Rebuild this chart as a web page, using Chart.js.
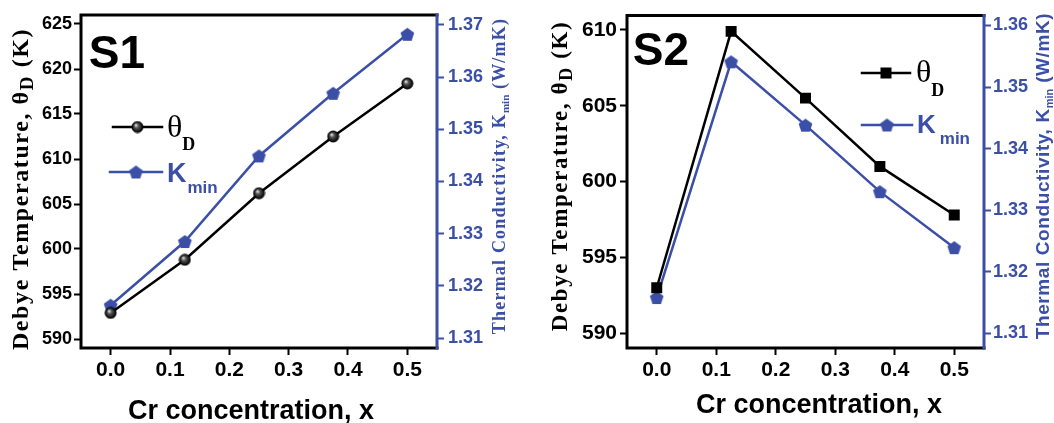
<!DOCTYPE html>
<html>
<head>
<meta charset="utf-8">
<script src="https://cdn.jsdelivr.net/npm/chart.js@4/dist/chart.umd.min.js"></script>
<style>
  html, body { margin: 0; padding: 0; background: #fff; }
  .panel { position: absolute; top: 0; width: 527px; height: 423px; }
  #p1 { left: 0; }
  #p2 { left: 527px; }
</style>
</head>
<body>
<div class="panel" id="p1"><canvas id="chartS1"></canvas></div>
<div class="panel" id="p2"><canvas id="chartS2"></canvas></div>
<script>
// Cr concentration (x) for both samples
const xValues = [0, 0.125, 0.25, 0.375, 0.5];

// S1
const s1Theta = [592.9, 598.8, 606.2, 612.5, 618.4];
const s1Kmin = [1.3163, 1.3285, 1.3449, 1.3569, 1.3682];

// S2
const s2Theta = [593.0, 609.9, 605.5, 601.0, 597.8];
const s2Kmin = [1.3158, 1.3541, 1.3438, 1.3330, 1.3239];

// tick labels
const xTicks = [0, 0.1, 0.2, 0.3, 0.4, 0.5];
const s1ThetaTicks = [590, 595, 600, 605, 610, 615, 620, 625];
const s1KTicks = [1.31, 1.32, 1.33, 1.34, 1.35, 1.36, 1.37];
const s2ThetaTicks = [590, 595, 600, 605, 610];
const s2KTicks = [1.31, 1.32, 1.33, 1.34, 1.35, 1.36];

const BLUE = "#3b4fa6";
const SANS = "'Liberation Sans', Arial, sans-serif";
const SERIF = "'Liberation Serif', 'Times New Roman', serif";

const makePentagon = (r) => {
  const size = Math.ceil(r * 2 + 2);
  const c = document.createElement("canvas");
  c.width = size;
  c.height = size;
  const g = c.getContext("2d");
  const cx = size / 2, cy = size / 2 + 0.8;
  g.beginPath();
  for (let i = 0; i < 5; i++) {
    const a = -Math.PI / 2 + (i * 2 * Math.PI) / 5;
    const px = cx + r * Math.cos(a), py = cy + r * Math.sin(a);
    i ? g.lineTo(px, py) : g.moveTo(px, py);
  }
  g.closePath();
  g.fillStyle = BLUE;
  g.fill();
  return c;
};

const makeSphere = (r) => {
  const size = Math.ceil(r * 2 + 2);
  const c = document.createElement("canvas");
  c.width = size;
  c.height = size;
  const g = c.getContext("2d");
  const cx = size / 2, cy = size / 2;
  const grad = g.createRadialGradient(cx - r * 0.3, cy - r * 0.35, 0.5, cx, cy, r);
  grad.addColorStop(0, "#d8d8d8");
  grad.addColorStop(0.35, "#555");
  grad.addColorStop(1, "#000");
  g.beginPath();
  g.arc(cx, cy, r, 0, Math.PI * 2);
  g.fillStyle = grad;
  g.fill();
  g.lineWidth = 1;
  g.strokeStyle = "#000";
  g.stroke();
  return c;
};

const pentagon = makePentagon(7.2);
const sphere = makeSphere(5.5);

const pairs = (ys) => xValues.map((x, i) => ({ x, y: ys[i] }));

// draws a run of text pieces (for subscripts), centred on cx, baseline at by
const drawRich = (ctx, cx, by, segs, angle) => {
  ctx.save();
  ctx.translate(cx, by);
  ctx.rotate(angle || 0);
  ctx.textBaseline = "alphabetic";
  ctx.textAlign = "left";
  let total = 0;
  segs.forEach((s) => {
    ctx.font = s.font;
    ctx.letterSpacing = (s.ls || 0) + "px";
    s.w = ctx.measureText(s.text).width;
    total += s.w;
  });
  let x = -total / 2;
  segs.forEach((s) => {
    ctx.font = s.font;
    ctx.letterSpacing = (s.ls || 0) + "px";
    ctx.fillStyle = s.color;
    ctx.fillText(s.text, x, s.dy || 0);
    x += s.w;
  });
  ctx.restore();
};

const drawLeft = (ctx, x, by, segs) => {
  ctx.save();
  ctx.textBaseline = "alphabetic";
  ctx.textAlign = "left";
  segs.forEach((s) => {
    ctx.font = s.font;
    ctx.fillStyle = s.color;
    ctx.fillText(s.text, x + (s.dx || 0), by + (s.dy || 0));
    x += ctx.measureText(s.text).width;
  });
  ctx.restore();
};

const decorPlugin = (deco) => ({
  id: "decor",
  afterDraw(chart) {
    const ctx = chart.ctx;
    const { left, right, top, bottom } = chart.chartArea;
    ctx.save();
    ctx.lineCap = "square";
    ctx.lineWidth = 3;
    ctx.strokeStyle = "#000";
    ctx.beginPath();
    ctx.moveTo(right, top);
    ctx.lineTo(left, top);
    ctx.lineTo(left, bottom);
    ctx.lineTo(right, bottom);
    ctx.stroke();
    ctx.strokeStyle = BLUE;
    ctx.beginPath();
    ctx.moveTo(right, top);
    ctx.lineTo(right, bottom);
    ctx.stroke();

    // legend
    deco.legend.forEach((item) => {
      ctx.lineWidth = 2.5;
      ctx.strokeStyle = item.color;
      ctx.beginPath();
      ctx.moveTo(item.x1, item.y);
      ctx.lineTo(item.x2, item.y);
      ctx.stroke();
      const mx = (item.x1 + item.x2) / 2;
      if (item.marker === "square") {
        ctx.fillStyle = "#000";
        ctx.fillRect(mx - 5.5, item.y - 5.5, 11, 11);
      } else {
        const img = item.marker === "sphere" ? sphere : pentagon;
        ctx.drawImage(img, mx - img.width / 2, item.y - img.height / 2);
      }
      drawLeft(ctx, item.tx, item.ty, item.text);
    });
    ctx.restore();

    deco.texts.forEach((t) => drawRich(ctx, t.x, t.y, t.segs, t.angle));
  },
});

const fixWidth = (w) => (scale) => { scale.width = w; };
const fixHeight = (h) => (scale) => { scale.height = h; };
const setTicks = (vals) => (scale) => { scale.ticks = vals.map((v) => ({ value: v })); };

const makeChart = (canvas, cfg) => new Chart(canvas, {
  type: "line",
  data: {
    datasets: [
      {
        data: pairs(cfg.theta),
        yAxisID: "y",
        borderColor: "#000",
        borderWidth: 2.5,
        pointStyle: cfg.thetaMarker === "square" ? "rect" : sphere,
        pointRadius: 6,
        backgroundColor: "#000",
        borderJoinStyle: "miter",
      },
      {
        data: pairs(cfg.kmin),
        yAxisID: "y1",
        borderColor: BLUE,
        borderWidth: 2.5,
        pointStyle: pentagon,
        pointRadius: 7,
        backgroundColor: BLUE,
      },
    ],
  },
  options: {
    responsive: true,
    maintainAspectRatio: false,
    animation: false,
    layout: { padding: { top: 15, left: 0, right: 0, bottom: 0 } },
    plugins: { legend: { display: false }, tooltip: { enabled: false } },
    scales: {
      x: {
        type: "linear",
        min: -0.05,
        max: 0.55,
        afterBuildTicks: setTicks(xTicks),
        afterFit: fixHeight(75),
        grid: { drawOnChartArea: false, tickLength: 7, tickWidth: 2, color: "#000" },
        border: { display: false },
        ticks: {
          callback: (v) => v.toFixed(1),
          font: { family: SANS, weight: "bold", size: 21 },
          color: "#000",
          padding: 3,
          maxRotation: 0,
        },
      },
      y: {
        position: "left",
        min: cfg.yMin,
        max: cfg.yMax,
        afterBuildTicks: setTicks(cfg.yTicks),
        afterFit: fixWidth(cfg.leftW),
        grid: { drawOnChartArea: false, tickLength: 7, tickWidth: 2, color: "#000" },
        border: { display: false },
        ticks: {
          font: { family: SANS, weight: "bold", size: cfg.yFont },
          color: "#000",
          padding: cfg.yPad,
        },
      },
      y1: {
        position: "right",
        min: cfg.kMin,
        max: cfg.kMax,
        afterBuildTicks: setTicks(cfg.kTicks),
        afterFit: fixWidth(cfg.rightW),
        grid: { drawOnChartArea: false, tickLength: 7, tickWidth: 2, color: BLUE },
        border: { display: false },
        ticks: {
          callback: (v) => v.toFixed(2),
          font: { family: SANS, weight: "bold", size: 18 },
          color: BLUE,
          padding: cfg.kPad,
        },
      },
    },
  },
  plugins: [decorPlugin(cfg.deco)],
});

const thetaTitle = (size, ls) => [
  { text: "Debye Temperature, \u03b8", font: `bold ${size}px ${SERIF}`, color: "#000", ls },
  { text: "D", font: `bold ${Math.round(size * 0.8)}px ${SERIF}`, color: "#000", dy: 5, ls },
  { text: " (K)", font: `bold ${size}px ${SERIF}`, color: "#000", ls },
];
const kTitle = (size, fam, ls) => [
  { text: "Thermal Conductivity, K", font: `bold ${size}px ${fam}`, color: BLUE, ls },
  { text: "min", font: `bold ${Math.round(size * 0.6)}px ${fam}`, color: BLUE, dy: 4 },
  { text: " (W/mK)", font: `bold ${size}px ${fam}`, color: BLUE, ls },
];
const xTitle = [{ text: "Cr concentration, x", font: `bold 27px ${SANS}`, color: "#000" }];

makeChart(document.getElementById("chartS1"), {
  theta: s1Theta,
  kmin: s1Kmin,
  thetaMarker: "sphere",
  yMin: 589, yMax: 626, yTicks: s1ThetaTicks, yFont: 18, yPad: 2,
  kMin: 1.3081, kMax: 1.3719, kTicks: s1KTicks, kPad: 4,
  leftW: 81, rightW: 90,
  deco: {
    legend: [
      {
        x1: 113, x2: 162, y: 127, color: "#000", marker: "sphere", tx: 167, ty: 137,
        text: [
          { text: "\u03b8", font: `32px ${SERIF}`, color: "#000" },
          { text: "D", font: `bold 18px ${SERIF}`, color: "#000", dy: 13 },
        ],
      },
      {
        x1: 110, x2: 162, y: 172, color: BLUE, marker: "pentagon", tx: 167, ty: 182,
        text: [
          { text: "K", font: `bold 27px ${SANS}`, color: BLUE },
          { text: "min", font: `bold 17px ${SANS}`, color: BLUE, dy: 11, dx: 1 },
        ],
      },
    ],
    texts: [
      { x: 117, y: 68, segs: [{ text: "S1", font: `bold 46px ${SANS}`, color: "#000" }] },
      { x: 251, y: 419, segs: xTitle },
      { x: 28, y: 189, angle: -Math.PI / 2, segs: thetaTitle(24, 1.6) },
      { x: 505, y: 176, angle: -Math.PI / 2, segs: kTitle(18, SERIF, 1.2) },
    ],
  },
});

makeChart(document.getElementById("chartS2"), {
  theta: s2Theta,
  kmin: s2Kmin,
  thetaMarker: "square",
  yMin: 589.03, yMax: 610.94, yTicks: s2ThetaTicks, yFont: 21, yPad: 3,
  kMin: 1.3076, kMax: 1.3616, kTicks: s2KTicks, kPad: 2,
  leftW: 100, rightW: 70,
  deco: {
    legend: [
      {
        x1: 862 - 527, x2: 910 - 527, y: 73, color: "#000", marker: "square", tx: 916 - 527, ty: 82,
        text: [
          { text: "\u03b8", font: `32px ${SERIF}`, color: "#000" },
          { text: "D", font: `bold 18px ${SERIF}`, color: "#000", dy: 14 },
        ],
      },
      {
        x1: 862 - 527, x2: 912 - 527, y: 125, color: BLUE, marker: "pentagon", tx: 917 - 527, ty: 133,
        text: [
          { text: "K", font: `bold 26px ${SANS}`, color: BLUE },
          { text: "min", font: `bold 17px ${SANS}`, color: BLUE, dy: 11, dx: 4 },
        ],
      },
    ],
    texts: [
      { x: 661 - 527, y: 65, segs: [{ text: "S2", font: `bold 46px ${SANS}`, color: "#000" }] },
      { x: 819 - 527, y: 413, segs: xTitle },
      { x: 567 - 527, y: 176, angle: -Math.PI / 2, segs: thetaTitle(23, 1.6) },
      { x: 1049 - 527, y: 176, angle: -Math.PI / 2, segs: kTitle(19, SANS, 0.6) },
    ],
  },
});
</script>
</body>
</html>
